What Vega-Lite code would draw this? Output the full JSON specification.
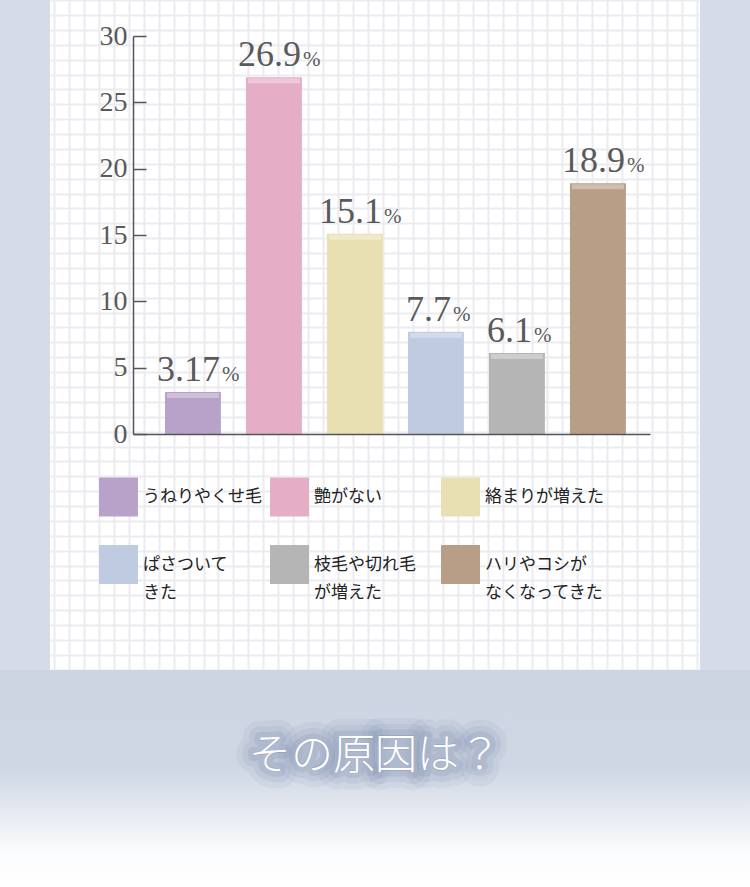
{
  "$schema": "https://vega.github.io/schema/vega-lite/v6.json",
  "background": "#d5dce7",
  "padding": 0,
  "spacing": 0,
  "center": true,
  "config": {
    "view": {"stroke": null},
    "style": {"guide-label": {"lineHeight": 28}}
  },
  "datasets": {
    "causes": [
      {"cause": "うねりやくせ毛", "value": 3.17},
      {"cause": "艶がない", "value": 26.9},
      {"cause": "絡まりが増えた", "value": 15.1},
      {"cause": "ぱさついてきた", "value": 7.7},
      {"cause": "枝毛や切れ毛が増えた", "value": 6.1},
      {"cause": "ハリやコシがなくなってきた", "value": 18.9}
    ]
  },
  "vconcat": [
    {
      "width": 650,
      "height": 670,
      "view": {"fill": "white", "stroke": null},
      "data": {"name": "causes"},
      "resolve": {"scale": {"x": "independent", "y": "independent"}},
      "layer": [
        {
          "mark": {"type": "point", "opacity": 0},
          "encoding": {
            "x": {
              "field": "value",
              "type": "quantitative",
              "scale": {"domain": [-0.268, 43.21], "nice": false, "zero": false},
              "axis": {"orient": "top", "grid": true, "gridColor": "#ebecf2", "gridWidth": 2, "labels": false, "ticks": false, "domain": false, "title": null, "tickCount": 44}
            },
            "y": {
              "field": "value",
              "type": "quantitative",
              "scale": {"domain": [-1.008, 44.02], "nice": false, "zero": false, "reverse": true},
              "axis": {"orient": "right", "grid": true, "gridColor": "#ebecf2", "gridWidth": 2, "labels": false, "ticks": false, "domain": false, "title": null, "tickCount": 46}
            }
          }
        },
        {
          "encoding": {
            "x": {
              "field": "cause",
              "type": "nominal",
              "sort": null,
              "scale": {"range": [83, 600], "paddingInner": 0.309, "paddingOuter": 0.346, "align": 0.57},
              "axis": {"orient": "bottom", "offset": -236, "labels": false, "ticks": false, "title": null, "domainColor": "#555555", "domainWidth": 1.5, "zindex": 1}
            },
            "y": {
              "field": "value",
              "type": "quantitative",
              "scale": {"domain": [0, 30], "range": [434, 36], "nice": false},
              "axis": {
                "orient": "left",
                "offset": -83,
                "values": [0, 5, 10, 15, 20, 25, 30],
                "tickSize": -13,
                "labelPadding": 19,
                "labelFont": "Liberation Serif",
                "labelFontSize": 28,
                "labelColor": "#5a5a5a",
                "domainColor": "#555555",
                "tickColor": "#555555",
                "domainWidth": 1.5,
                "tickWidth": 1.5,
                "grid": false,
                "title": null,
                "zindex": 1
              }
            }
          },
          "layer": [
            {
              "mark": {"type": "bar"},
              "encoding": {
                "color": {
                  "field": "cause",
                  "type": "nominal",
                  "sort": null,
                  "scale": {
                    "domain": ["うねりやくせ毛", "艶がない", "絡まりが増えた", "ぱさついてきた", "枝毛や切れ毛が増えた", "ハリやコシがなくなってきた"],
                    "range": ["#b9a2c9", "#e6adc7", "#e8e0b3", "#bfcbe0", "#b5b5b5", "#b99e87"]
                  },
                  "legend": {
                    "orient": "none",
                    "legendX": 99,
                    "legendY": 469,
                    "direction": "horizontal",
                    "columns": 3,
                    "gridAlign": "all",
                    "symbolType": "square",
                    "symbolSize": 1521,
                    "symbolStrokeWidth": 0,
                    "symbolOpacity": 1,
                    "labelFont": "Noto Sans CJK JP",
                    "labelFontSize": 17,
                    "labelColor": "#222222",
                    "labelOffset": 5,
                    "labelLimit": 300,
                    "columnPadding": 8,
                    "rowPadding": 20,
                    "padding": 0,
                    "title": null,
                    "labelExpr": "datum.label == 'ぱさついてきた' ? ['ぱさついて', 'きた'] : datum.label == '枝毛や切れ毛が増えた' ? ['枝毛や切れ毛', 'が増えた'] : datum.label == 'ハリやコシがなくなってきた' ? ['ハリやコシが', 'なくなってきた'] : datum.label"
                  }
                }
              }
            },
            {
              "mark": {"type": "tick", "orient": "horizontal", "thickness": 5, "size": 52, "color": "white", "opacity": 0.32, "yOffset": 3.5}
            },
            {
              "transform": [{"filter": "length(toString(datum.value)) == 4"}],
              "mark": {"type": "text", "align": "right", "baseline": "alphabetic", "dx": 27, "dy": -11, "font": "Liberation Serif", "fontSize": 36, "color": "#5a5a5a"},
              "encoding": {"text": {"field": "value", "type": "quantitative"}}
            },
            {
              "transform": [{"filter": "length(toString(datum.value)) == 4"}],
              "mark": {"type": "text", "align": "left", "baseline": "alphabetic", "dx": 29, "dy": -11, "font": "Liberation Serif", "fontSize": 21, "color": "#5a5a5a"},
              "encoding": {"text": {"value": "%"}}
            },
            {
              "transform": [{"filter": "length(toString(datum.value)) == 3"}],
              "mark": {"type": "text", "align": "right", "baseline": "alphabetic", "dx": 15, "dy": -11, "font": "Liberation Serif", "fontSize": 36, "color": "#5a5a5a"},
              "encoding": {"text": {"field": "value", "type": "quantitative"}}
            },
            {
              "transform": [{"filter": "length(toString(datum.value)) == 3"}],
              "mark": {"type": "text", "align": "left", "baseline": "alphabetic", "dx": 17, "dy": -11, "font": "Liberation Serif", "fontSize": 21, "color": "#5a5a5a"},
              "encoding": {"text": {"value": "%"}}
            }
          ]
        }
      ]
    },
    {
      "width": 750,
      "height": 217,
      "view": {
        "stroke": null,
        "fill": {
          "gradient": "linear",
          "x1": 0, "y1": 0, "x2": 0, "y2": 1,
          "stops": [
            {"offset": 0, "color": "#cdd5e3"},
            {"offset": 0.45, "color": "#cfd7e4"},
            {"offset": 0.65, "color": "#e5e9f1"},
            {"offset": 0.84, "color": "#fbfcfd"},
            {"offset": 1, "color": "#ffffff"}
          ]
        }
      },
      "data": {"values": [{"caption": "その原因は？"}]},
      "layer": [
        {
          "mark": {"type": "text", "font": "Noto Sans CJK JP", "fontSize": 42, "baseline": "middle", "dy": -23, "stroke": "#7a8aab", "strokeWidth": 34, "strokeOpacity": 0.1, "strokeJoin": "round", "color": "#7a8aab", "fillOpacity": 0.1},
          "encoding": {"text": {"field": "caption", "type": "nominal"}}
        },
        {
          "mark": {"type": "text", "font": "Noto Sans CJK JP", "fontSize": 42, "baseline": "middle", "dy": -23, "stroke": "#7a8aab", "strokeWidth": 22, "strokeOpacity": 0.14, "strokeJoin": "round", "color": "#7a8aab", "fillOpacity": 0.1},
          "encoding": {"text": {"field": "caption", "type": "nominal"}}
        },
        {
          "mark": {"type": "text", "font": "Noto Sans CJK JP", "fontSize": 42, "baseline": "middle", "dy": -23, "stroke": "#7a8aab", "strokeWidth": 11, "strokeOpacity": 0.2, "strokeJoin": "round", "color": "#7a8aab", "fillOpacity": 0.2},
          "encoding": {"text": {"field": "caption", "type": "nominal"}}
        },
        {
          "mark": {"type": "text", "font": "Noto Sans CJK JP", "fontSize": 42, "fontWeight": 300, "baseline": "middle", "dy": -23, "color": "#ffffff"},
          "encoding": {"text": {"field": "caption", "type": "nominal"}}
        }
      ]
    }
  ]
}
